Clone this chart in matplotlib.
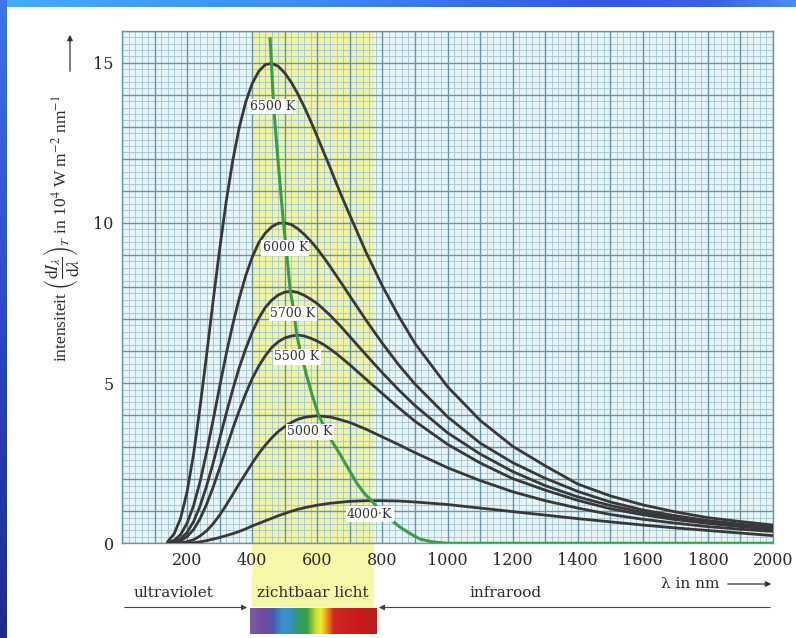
import numpy as np
import matplotlib
matplotlib.use("Agg")
import matplotlib.pyplot as plt
from matplotlib.colors import LinearSegmentedColormap
from matplotlib.patches import Rectangle, FancyArrowPatch
from matplotlib.transforms import blended_transform_factory

plt.rcParams['font.family'] = ['DejaVu Serif']
plt.rcParams['mathtext.fontset'] = 'stix'

# ---------------- data ----------------
wavelength = [140, 160, 180, 200, 220, 240, 260, 280, 300, 320, 340, 360, 380, 400, 420,
              440, 460, 480, 500, 520, 540, 560, 580, 600, 620, 640, 660, 680, 700,
              750, 800, 850, 900,
              1000, 1100, 1200, 1300, 1400, 1500, 1600, 1700, 1800, 1900, 2000]

nan = np.nan
i_6500 = [0.05, 0.29, 0.78, 1.61, 2.79, 4.27, 5.89, 7.57, 9.18, 10.66, 11.93, 12.97, 13.77, 14.35, 14.73,
          14.94, 14.98, 14.89, 14.68, 14.39, 14.03, 13.62, 13.17, 12.69, 12.20, 11.71, 11.20, 10.71, 10.24,
          9.08, 8.03, 7.09, 6.24,
          4.89, 3.84, 3.03, 2.42, 1.85, 1.48, 1.20, 0.98, 0.80, 0.68, 0.57]
i_6000 = [0.02, 0.09, 0.27, 0.63, 1.18, 1.93, 2.85, 3.85, 4.89, 5.90, 6.82, 7.64, 8.35, 8.93, 9.38,
          9.68, 9.88, 9.99, 10.0, 9.95, 9.82, 9.64, 9.43, 9.19, 8.92, 8.63, 8.33, 8.03, 7.72,
          6.96, 6.24, 5.57, 4.97,
          3.95, 3.13, 2.52, 2.03, 1.62, 1.29, 1.04, 0.86, 0.71, 0.60, 0.50]
i_5700 = [0.01, 0.04, 0.14, 0.34, 0.68, 1.17, 1.79, 2.51, 3.27, 4.04, 4.79, 5.48, 6.07, 6.59, 7.02,
          7.36, 7.59, 7.75, 7.84, 7.87, 7.83, 7.74, 7.62, 7.48, 7.30, 7.11, 6.90, 6.68, 6.45,
          5.88, 5.32, 4.79, 4.30,
          3.45, 2.79, 2.24, 1.80, 1.45, 1.18, 0.96, 0.79, 0.66, 0.55, 0.47]
i_5500 = [0.005, 0.02, 0.08, 0.21, 0.43, 0.77, 1.22, 1.75, 2.35, 2.96, 3.57, 4.14, 4.67, 5.14, 5.53,
          5.85, 6.11, 6.29, 6.41, 6.47, 6.50, 6.47, 6.40, 6.31, 6.20, 6.06, 5.91, 5.74, 5.57,
          5.12, 4.67, 4.23, 3.81,
          3.09, 2.51, 2.02, 1.66, 1.34, 1.08, 0.89, 0.74, 0.62, 0.52, 0.43]
i_5000 = [nan, 0.0, 0.015, 0.05, 0.11, 0.23, 0.39, 0.61, 0.88, 1.19, 1.52, 1.86, 2.18, 2.50, 2.80,
          3.06, 3.29, 3.49, 3.64, 3.77, 3.87, 3.93, 3.96, 3.98, 3.96, 3.94, 3.89, 3.83, 3.77,
          3.56, 3.32, 3.08, 2.83,
          2.36, 1.96, 1.61, 1.33, 1.10, 0.90, 0.75, 0.63, 0.52, 0.44, 0.37]
i_4000 = [nan, nan, nan, 0.0, 0.015, 0.045, 0.085, 0.13, 0.18, 0.24, 0.30, 0.37, 0.45, 0.54, 0.62,
          0.70, 0.78, 0.86, 0.93, 1.00, 1.06, 1.11, 1.15, 1.19, 1.22, 1.25, 1.27, 1.29, 1.31,
          1.33, 1.33, 1.32, 1.29,
          1.21, 1.10, 0.99, 0.88, 0.77, 0.67, 0.57, 0.48, 0.40, 0.32, 0.24]

series = [i_6500, i_6000, i_5700, i_5500, i_5000, i_4000]
curve_labels = ['6500 K', '6000 K', '5700 K', '5500 K', '5000 K', '4000·K']
label_x = [462, 502, 525, 538, 578, 761]
label_y = [13.63, 9.22, 7.18, 5.82, 3.48, 0.91]

# locus of the maxima (green curve)
peak_wl = [455, 459, 466, 481, 496, 507, 517, 527, 537, 548, 568, 585, 604, 635, 668, 700,
           722, 745, 768, 790, 820, 855, 886, 916, 957, 1000, 2000]
peak_int = [15.75, 15.0, 13.6, 11.75, 10.0, 8.95, 7.87, 7.3, 6.5, 6.0, 5.2, 4.6, 4.0, 3.35,
            2.81, 2.25, 1.87, 1.55, 1.32, 1.05, 0.78, 0.5, 0.3, 0.13, 0.04, 0.0, 0.0]

x_ticks = [200, 400, 600, 800, 1000, 1200, 1400, 1600, 1800, 2000]
y_ticks = [0, 5, 10, 15]
visible_band = [400, 775]
region_labels = ['ultraviolet', 'zichtbaar licht', 'infrarood']

# ---------------- figure ----------------
W, H = 796, 638
fig = plt.figure(figsize=(W / 100, H / 100), dpi=100, facecolor='white')


def fx(px):
    return px / W


def fy(py):
    return 1 - py / H


# blue slide borders
top_cmap = LinearSegmentedColormap.from_list(
    'top', [(0, '#46acf6'), (0.4, '#3b8cf2'), (0.75, '#3356e6'), (0.9, '#3a62e8'), (1, '#4a8ef0')])
bt = fig.add_axes([0, fy(7), 1, 7 / H])
bt.imshow(np.linspace(0, 1, 256)[None, :], aspect='auto', cmap=top_cmap, extent=[0, 1, 0, 1])
bt.axis('off')
left_cmap = LinearSegmentedColormap.from_list('left', [(0, '#1d2c88'), (0.5, '#2c48c8'), (1, '#3d74e8')])
bl = fig.add_axes([0, 0, 7 / W, 1])
bl.imshow(np.linspace(0, 1, 256)[:, None], aspect='auto', cmap=left_cmap, extent=[0, 1, 0, 1],
          origin='lower')
bl.axis('off')

# main axes
ax = fig.add_axes([fx(122), fy(543.3), (773 - 122) / W, (543.3 - 30.7) / H])
ax.set_facecolor('#e7f4f8')
ax.set_xlim(0, 2000)
ax.set_ylim(0, 16)

ax.axvspan(visible_band[0], visible_band[1], color='#eef3a8', lw=0, zorder=0.5)
trans = blended_transform_factory(ax.transData, ax.transAxes)
ax.add_patch(Rectangle((visible_band[0], -0.124), visible_band[1] - visible_band[0], 0.124,
                       transform=trans, clip_on=False, facecolor='#f6f7a8', lw=0, zorder=0))

# graph paper grid
ax.vlines(np.arange(0, 2001, 20), 0, 16, colors='#a0c4d0', lw=0.6, zorder=1)
ax.hlines(np.arange(0, 16.01, 0.2), 0, 2000, colors='#a0c4d0', lw=0.6, zorder=1)
ax.vlines(np.arange(0, 2001, 100), 0, 16, colors='#6795a8', lw=1.0, zorder=1.2)
ax.hlines(np.arange(0, 16.01, 1), 0, 2000, colors='#6795a8', lw=1.0, zorder=1.2)

for vals in series:
    ax.plot(wavelength, vals, color='#383838', lw=2.0, zorder=3,
            solid_capstyle='round', solid_joinstyle='round')
ax.plot(peak_wl, peak_int, color='#3a9c48', lw=2.2, zorder=4, solid_joinstyle='round')

for lab, lx, ly in zip(curve_labels, label_x, label_y):
    ax.text(lx, ly, lab, ha='center', va='center', fontsize=9, color='#333333', zorder=5,
            bbox=dict(boxstyle='square,pad=0.1', fc='white', ec='none'))

ax.set_xticks(x_ticks)
ax.set_yticks(y_ticks)
ax.tick_params(length=0, labelsize=11.5, pad=6, labelcolor='#2a2a2a')
for s in ax.spines.values():
    s.set_color('#6795a8')
    s.set_linewidth(1.0)

# y-axis label (vertical)
fig.text(fx(62), fy(362), r'intensiteit $\left(\dfrac{\mathrm{d}I_\lambda}{\mathrm{d}\lambda}\right)_T$'
         r' in 10$^4$ W m$^{-2}$ nm$^{-1}$', rotation=90, ha='center', va='bottom',
         fontsize=12.5, family=['Liberation Serif'], color='#2a2a2a')
fig.add_artist(FancyArrowPatch((fx(70), fy(74)), (fx(70), fy(32)),
               transform=fig.transFigure, arrowstyle='-|>', mutation_scale=8, color='#333333', lw=0.9))

# lambda axis label
fig.text(fx(661), fy(584), 'λ in nm', ha='left', va='center', fontsize=11, color='#2a2a2a')
fig.add_artist(FancyArrowPatch((fx(725), fy(584)), (fx(774), fy(584)),
               transform=fig.transFigure, arrowstyle='-|>', mutation_scale=8, color='#333333', lw=0.9))

# region labels and arrows
fig.text(fx(174), fy(593), region_labels[0], ha='center', va='center', fontsize=11, color='#2a2a2a')
fig.text(fx(312.5), fy(593), region_labels[1], ha='center', va='center', fontsize=11, color='#2a2a2a')
fig.text(fx(506), fy(593), region_labels[2], ha='center', va='center', fontsize=11, color='#2a2a2a')
fig.add_artist(FancyArrowPatch((fx(122), fy(607.5)), (fx(250), fy(607.5)),
               transform=fig.transFigure, arrowstyle='-|>', mutation_scale=8, color='#444444', lw=0.8))
fig.add_artist(FancyArrowPatch((fx(773), fy(607.5)), (fx(376), fy(607.5)),
               transform=fig.transFigure, arrowstyle='-|>', mutation_scale=8, color='#444444', lw=0.8))

# spectrum bar
spec_cmap = LinearSegmentedColormap.from_list('spec', [
    (0.0, '#7b5aa8'), (0.12, '#6a4c9e'), (0.18, '#4a58b0'), (0.25, '#3a8fd0'), (0.31, '#3a90c8'),
    (0.38, '#2f9a6a'), (0.45, '#3aa040'), (0.52, '#c8e030'), (0.56, '#f4e830'), (0.60, '#f0a020'),
    (0.66, '#d02828'), (0.85, '#c81a1a'), (1.0, '#b82020')])
sp = fig.add_axes([fx(250), fy(634), 126 / W, 26 / H])
sp.imshow(np.linspace(0, 1, 256)[None, :], aspect='auto', cmap=spec_cmap, extent=[0, 1, 0, 1])
sp.axis('off')

fig.savefig('out.png', dpi=100, facecolor='white')
